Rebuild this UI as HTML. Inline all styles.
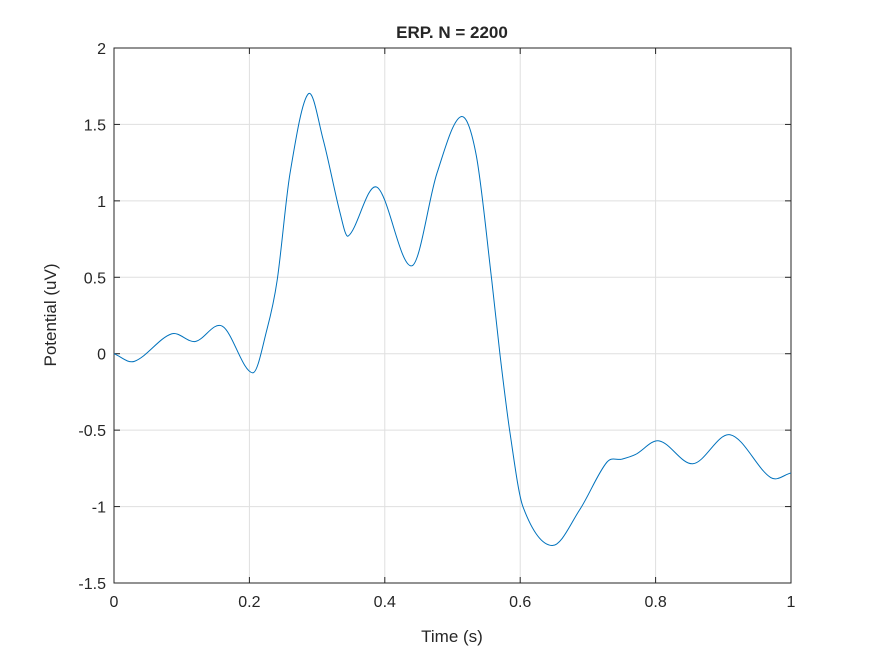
<!DOCTYPE html>
<html><head><meta charset="utf-8"><style>
body{margin:0;background:#fff;}
svg text{font-family:"Liberation Sans",Arial,sans-serif;fill:#262626;}
</style></head><body>
<svg id="chart" width="875" height="656" xmlns="http://www.w3.org/2000/svg">
<rect width="875" height="656" fill="#fff"/>
<g id="grid"></g>
<g id="axes"></g>
<path id="line" fill="none" stroke="#0072BD" stroke-width="1"/>
<text x="452" y="38" text-anchor="middle" font-size="17" font-weight="bold" fill="#000">ERP. N = 2200</text>
<text x="452" y="642" text-anchor="middle" font-size="17">Time (s)</text>
<text transform="translate(56,315) rotate(-90)" text-anchor="middle" font-size="17">Potential (uV)</text>
</svg>
<script>
const times=[0,0.03,0.085,0.12,0.16,0.205,0.226,0.241,0.26,0.287,0.309,0.334,0.346,0.388,0.44,0.477,0.512,0.535,0.558,0.57,0.585,0.604,0.647,0.688,0.728,0.75,0.77,0.805,0.855,0.91,0.97,1.0];
const values=[0,-0.05,0.13,0.08,0.18,-0.125,0.16,0.48,1.18,1.70,1.40,0.92,0.77,1.09,0.575,1.18,1.55,1.30,0.48,0,-0.52,-1.0,-1.255,-1.02,-0.71,-0.69,-0.66,-0.57,-0.72,-0.53,-0.81,-0.78];
const xTicks=[0,0.2,0.4,0.6,0.8,1];
const xTickLabels=["0","0.2","0.4","0.6","0.8","1"];
const yTicks=[-1.5,-1,-0.5,0,0.5,1,1.5,2];
const yTickLabels=["-1.5","-1","-0.5","0","0.5","1","1.5","2"];
const X0=114,X1=791,Y0=583,Y1=48,ymin=-1.5,ymax=2;
function sx(t){return X0+(X1-X0)*t;}
function sy(v){return Y0-(Y0-Y1)*(v-ymin)/(ymax-ymin);}
const NS="http://www.w3.org/2000/svg";
const grid=document.getElementById('grid'),axes=document.getElementById('axes');
function mk(tag,at,parent){const e=document.createElementNS(NS,tag);for(const k in at)e.setAttribute(k,at[k]);parent.appendChild(e);return e;}
xTicks.forEach((t,i)=>{
  const g=mk('line',{x1:sx(t),x2:sx(t),y1:Y1,y2:Y0,stroke:'#dfdfdf','stroke-width':1},grid);
  
  
  const tk=mk('text',{x:sx(t),y:Y0+24,'text-anchor':'middle','font-size':'16'},axes);
  tk.textContent=xTickLabels[i];
  
  
  mk('line',{x1:sx(t),x2:sx(t),y1:Y0,y2:Y0-6,stroke:'#262626'},axes);
  mk('line',{x1:sx(t),x2:sx(t),y1:Y1,y2:Y1+6,stroke:'#262626'},axes);
});
yTicks.forEach((v,i)=>{
  const g=mk('line',{x1:X0,x2:X1,y1:sy(v),y2:sy(v),stroke:'#dfdfdf','stroke-width':1},grid);
  
  
  const tk=mk('text',{x:X0-8,y:sy(v)+6,'text-anchor':'end','font-size':'16'},axes);
  tk.textContent=yTickLabels[i];
  
  
  mk('line',{x1:X0,x2:X0+6,y1:sy(v),y2:sy(v),stroke:'#262626'},axes);
  mk('line',{x1:X1,x2:X1-6,y1:sy(v),y2:sy(v),stroke:'#262626'},axes);
});
const box=mk('rect',{x:X0,y:Y1,width:X1-X0,height:Y0-Y1,fill:'none',stroke:'#262626','stroke-width':1},axes);


// Hermite spline with non-uniform-aware tangents
const pts=times.map((t,i)=>[sx(t),sy(values[i])]);
const n=pts.length;
const m=pts.map((p,i)=>{
  const a=pts[Math.max(0,i-1)],b=pts[Math.min(n-1,i+1)];
  return (b[1]-a[1])/(b[0]-a[0]);
});
let d='M'+pts[0][0]+','+pts[0][1];
for(let i=0;i<n-1;i++){
  const p1=pts[i],p2=pts[i+1],dx=(p2[0]-p1[0])/3;
  d+=' C'+(p1[0]+dx)+','+(p1[1]+m[i]*dx)+' '+(p2[0]-dx)+','+(p2[1]-m[i+1]*dx)+' '+p2[0]+','+p2[1];
}
document.getElementById('line').setAttribute('d',d);
</script>
</body></html>
